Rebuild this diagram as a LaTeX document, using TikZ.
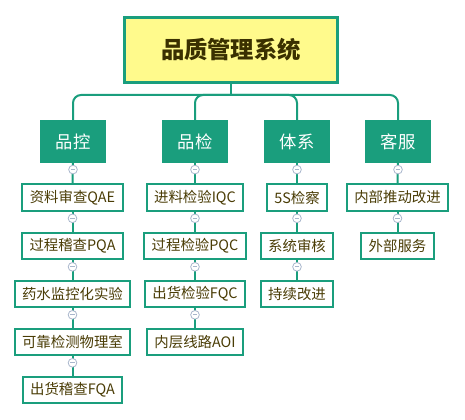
\documentclass[tikz,border=0pt]{standalone}
\usepackage{fontspec}
\setmainfont{Noto Sans CJK SC}
\usetikzlibrary{calc}
\definecolor{mindgreen}{HTML}{1A9E7D}
\definecolor{rootfill}{HTML}{FFFA8C}
\definecolor{roottext}{HTML}{3A3000}
\definecolor{leaftext}{HTML}{4A3C05}
\definecolor{foldgray}{HTML}{A9B6CC}
\begin{document}
\begin{tikzpicture}[x=0.75pt,y=-0.75pt,
    link/.style={draw=mindgreen,line width=1.5pt},
    rootbox/.style={draw=mindgreen,line width=2.4pt,fill=rootfill,text=roottext,
        minimum width=160pt,minimum height=49pt,font=\fontsize{17.5}{20}\selectfont\bfseries},
    catbox/.style={fill=mindgreen,text=white,minimum width=49.5pt,minimum height=32pt,
        font=\fontsize{13}{15}\selectfont},
    leafbox/.style={draw=mindgreen,line width=1.5pt,fill=white,text=leaftext,
        minimum height=20pt,inner xsep=5.5pt,font=\fontsize{10.8}{12}\selectfont},
    fold/.style={circle,draw=foldgray,fill=white,inner sep=0pt,minimum size=6.5pt,line width=0.6pt,
        path picture={\draw[foldgray,line width=0.6pt]
            ([xshift=-1.6pt]path picture bounding box.center) -- ([xshift=1.6pt]path picture bounding box.center);}}]
    \useasboundingbox (0,0) rectangle (465,420);
    \node[rootbox] (root) at (231,50) {品质管理系统};
    \coordinate (bar) at (231,95);
    \node[catbox] (pk) at (73,141.5) {品控};
    \node[catbox] (pj) at (195,141.5) {品检};
    \node[catbox] (tx) at (297,141.5) {体系};
    \node[catbox] (kf) at (398,141.5) {客服};
    \draw[link] (root.south) -- (bar);
    \foreach \c in {pk,pj,tx,kf}
        \draw[link,rounded corners=6pt] (\c.north) |- (bar);
    \node[leafbox] (pk1) at (72.5,197.5) {资料审查QAE};
    \node[leafbox] (pk2) at (72.5,246) {过程稽查PQA};
    \node[leafbox] (pk3) at (72.5,294) {药水监控化实验};
    \node[leafbox] (pk4) at (72.5,342) {可靠检测物理室};
    \node[leafbox] (pk5) at (72.5,390) {出货稽查FQA};
    \node[leafbox] (pj1) at (195,197.5) {进料检验IQC};
    \node[leafbox] (pj2) at (195,246) {过程检验PQC};
    \node[leafbox] (pj3) at (195,294) {出货检验FQC};
    \node[leafbox] (pj4) at (195,342) {内层线路AOI};
    \node[leafbox] (tx1) at (297,197.5) {5S检察};
    \node[leafbox] (tx2) at (297,246) {系统审核};
    \node[leafbox] (tx3) at (297,294) {持续改进};
    \node[leafbox] (kf1) at (397.5,197.5) {内部推动改进};
    \node[leafbox] (kf2) at (397.5,246) {外部服务};
    \foreach \a/\b in {pk/pk1,pk1/pk2,pk2/pk3,pk3/pk4,pk4/pk5,
                       pj/pj1,pj1/pj2,pj2/pj3,pj3/pj4,
                       tx/tx1,tx1/tx2,tx2/tx3,
                       kf/kf1,kf1/kf2} {
        \draw[link] (\a.south) -- (\b.north);
        \node[fold] (fold-\b) at ($(\a.south)+(0,6.5)$) {};
    }
\end{tikzpicture}
\end{document}
